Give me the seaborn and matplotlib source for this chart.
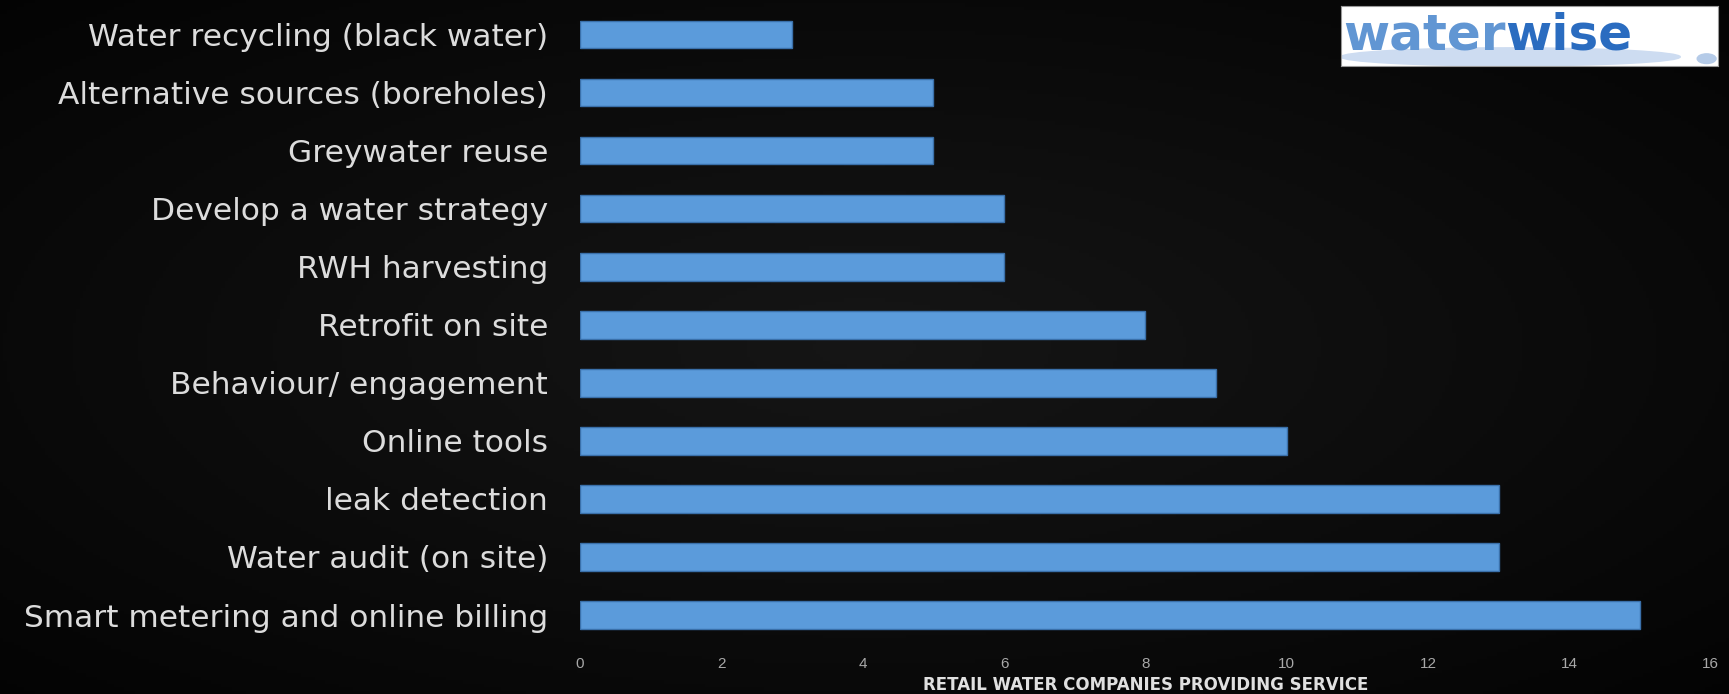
import numpy as np
import pandas as pd
import matplotlib
matplotlib.use("Agg")
import matplotlib.pyplot as plt
import seaborn as sns
from matplotlib.patches import Ellipse

services = ["Water recycling (black water)", "Alternative sources (boreholes)", "Greywater reuse",
            "Develop a water strategy", "RWH harvesting", "Retrofit on site", "Behaviour/ engagement",
            "Online tools", "leak detection", "Water audit (on site)", "Smart metering and online billing"]
companies = [3, 5, 5, 6, 6, 8, 9, 10, 13, 13, 15]
x_ticks = [0, 2, 4, 6, 8, 10, 12, 14, 16]

data = pd.DataFrame({"service": services, "companies": companies})

sns.set_style("dark")
plt.rcParams['font.family'] = ['DejaVu Sans']

fig = plt.figure(figsize=(17.29, 6.94), dpi=100)

# dark background with a soft glow in the middle
bg = fig.add_axes([0, 0, 1, 1], zorder=-10)
yy, xx = np.mgrid[-1:1:200j, -1:1:500j]
r = np.sqrt(xx ** 2 + yy ** 2)
bg.imshow(np.clip(0.085 - 0.05 * r, 0, 1), cmap='gray', vmin=0, vmax=1, aspect='auto')
bg.axis('off')

ax = fig.add_axes([0.3355, 0.072, 0.654, 0.92])
ax.set_facecolor('none')
sns.barplot(x="companies", y="service", data=data, ax=ax, color="#5b9bdb",
            edgecolor="#3a70aa", linewidth=1, width=0.475, saturation=1)
ax.set_xlim(0, 16)
ax.set_xticks(x_ticks)
ax.set_ylim(10.5, -0.5)
ax.grid(False)
for s in ax.spines.values():
    s.set_visible(False)
ax.tick_params(axis='y', length=0, pad=23, labelsize=22.5, labelcolor='#dcdcdc')
ax.tick_params(axis='x', length=0, pad=9, labelsize=11, labelcolor='#a8a8a8')
for lab in ax.get_xticklabels():
    lab.set_family('Liberation Sans')
ax.set_ylabel("")
ax.set_xlabel("RETAIL WATER COMPANIES PROVIDING SERVICE", fontsize=12, color='#e0e0e0',
              labelpad=4, fontweight='bold')

# logo box
logo = fig.add_axes([0.7756, 0.905, 0.218, 0.087])
logo.set_xlim(0, 1)
logo.set_ylim(0, 1)
logo.set_facecolor('white')
logo.set_xticks([])
logo.set_yticks([])
for s in logo.spines.values():
    s.set_edgecolor('#999999')
logo.add_patch(Ellipse((0.45, 0.15), 0.9, 0.3, color='#cddcf1'))
logo.add_patch(Ellipse((0.97, 0.12), 0.05, 0.16, color='#b5cbe8'))
t1 = logo.text(0.005, 0.27, "water", fontsize=36, fontweight='bold', color='#6196d3',
               va='baseline', ha='left')
renderer = fig.canvas.get_renderer()
bb = t1.get_window_extent(renderer).transformed(logo.transAxes.inverted())
logo.text(bb.x1, 0.27, "wise", fontsize=36, fontweight='bold', color='#2a6cc0',
          va='baseline', ha='left')

fig.savefig("out.png", dpi=100, facecolor='black')
